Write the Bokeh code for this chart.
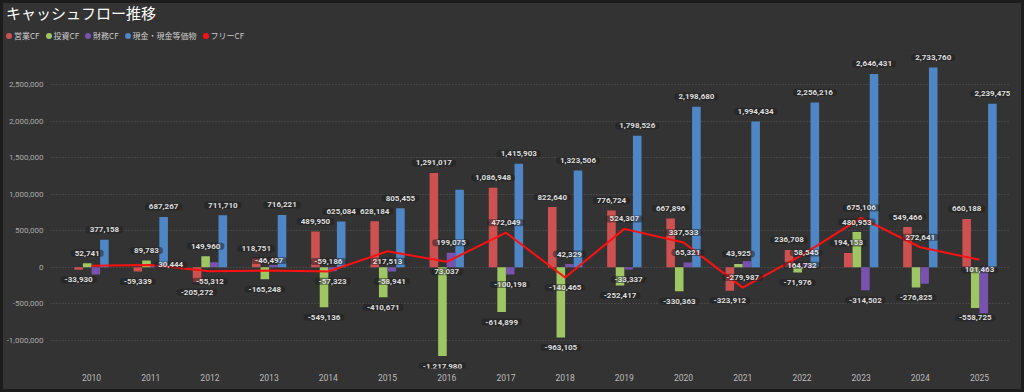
from bokeh.plotting import figure
from bokeh.layouts import column
from bokeh.models import (ColumnDataSource, FixedTicker, NumeralTickFormatter, Range1d, Div)
from bokeh.core.properties import value
from bokeh.embed import file_html
from bokeh.resources import INLINE

# ---------------- data ----------------
years = [2010, 2011, 2012, 2013, 2014, 2015, 2016, 2017, 2018, 2019, 2020, 2021, 2022, 2023, 2024, 2025]
operating = [-33930, -59339, -205272, 118751, 489950, 628184, 1291017, 1086948, 822640, 776724,
             667896, -323912, 236708, 194153, 549466, 660188]
investing = [52741, 89783, 149960, -165248, -549136, -410671, -1217980, -614899, -963105, -252417,
             -330363, 43925, -71976, 480953, -276825, -558725]
financing = [-100000, 20000, 68000, 30000, -57323, -58941, 199075, -100198, 42329, -33337,
             65321, 80000, 58545, -314502, -228000, -630000]
cash = [377158, 687267, 711710, 716221, 625084, 805455, 1059000, 1415903, 1323506, 1798526,
        2198680, 1994434, 2256216, 2646431, 2733760, 2239475]
free_cf = [18811, 30444, -55312, -46497, -59186, 217513, 73037, 472049, -140465, 524307,
           337533, -279987, 164732, 675106, 272641, 101463]

series_names = ["営業CF", "投資CF", "財務CF", "現金・現金等価物"]
free_name = "フリーCF"
title_text = "キャッシュフロー推移"
y_ticks = [-1000000, -500000, 0, 500000, 1000000, 1500000, 2000000, 2500000]

# label visibility / placement (style)
show_op = [True] * 16
show_inv = [True] * 16
show_fin = [False, False, False, False, True, True, True, True, True, True, True, False, True, True, False, False]
show_cash = [True, True, True, True, True, True, False, True, True, True, True, True, True, True, True, True]
free_pos = ["none", "right", "below", "above", "above", "below", "below", "above", "below", "above",
            "above", "above", "below", "above", "above", "below"]

# ---------------- style ----------------
colors = ["#cd5151", "#9ec764", "#7753ad", "#4f87c6"]
free_color = "#ff1010"
bg = "#333333"
num_font = "Roboto"
jp_font = "Noto Sans CJK JP"
bar_w = 0.145

# ---------------- header (title + legend) ----------------
items_html = ""
for name, col in zip(series_names + [free_name], colors + [free_color]):
    items_html += (f'<span style="display:inline-block;width:6px;height:6px;border-radius:50%;'
                   f'background:{col};margin-right:2px;"></span>'
                   f'<span style="margin-right:6px;">{name}</span>')
header_html = (
    f'<div style="position:relative;width:1024px;height:50px;font-family:\'{jp_font}\';">'
    f'<div style="position:absolute;left:6px;top:3px;font-size:15px;line-height:20px;color:#ffffff;'
    f'white-space:nowrap;">{title_text}</div>'
    f'<div style="position:absolute;left:6px;top:31px;height:10px;display:flex;align-items:center;'
    f'font-size:8px;line-height:10px;color:#cccccc;white-space:nowrap;">{items_html}</div>'
    f'</div>')
hdr = Div(text=header_html, width=1024, height=50, margin=0)

# ---------------- main chart ----------------
p = figure(frame_width=960, frame_height=318, output_backend="svg", toolbar_location=None,
           x_range=Range1d(2009.307, 2025.523), y_range=Range1d(-1388000, 2968000),
           min_border_left=50, min_border_right=14, min_border_top=0, min_border_bottom=24,
           background_fill_color=bg, border_fill_color=bg, outline_line_color=None, margin=0)

p.xgrid.visible = False
p.ygrid.grid_line_color = "#5a5a5a"
p.ygrid.grid_line_dash = "1 2"
p.ygrid.grid_line_width = 1

for ax in (p.xaxis[0], p.yaxis[0]):
    ax.axis_line_color = None
    ax.major_tick_line_color = None
    ax.minor_tick_line_color = None
    ax.major_tick_out = 0
    ax.major_tick_in = 0
    ax.minor_tick_out = 0
    ax.minor_tick_in = 0
    ax.major_label_text_font = num_font
p.xaxis.major_label_text_font_size = "8.5px"
p.yaxis.major_label_text_font_size = "8px"
p.xaxis.major_label_text_color = "#bbbbbb"
p.yaxis.major_label_text_color = "#aaaaaa"
p.xaxis.ticker = FixedTicker(ticks=years)
p.yaxis.ticker = FixedTicker(ticks=y_ticks)
p.yaxis.formatter = NumeralTickFormatter(format="0,0")
p.xaxis.major_label_standoff = 5
p.yaxis.major_label_standoff = 7

all_series = [operating, investing, financing, cash]
shows = [show_op, show_inv, show_fin, show_cash]
offsets = [-1.5, -0.5, 0.5, 1.5]

lab_x, lab_y, lab_t, lab_off = [], [], [], []
for vals, col, off, shw in zip(all_series, colors, offsets, shows):
    xs = [yr + off * bar_w for yr in years]
    src = ColumnDataSource(dict(x=xs, top=vals))
    p.vbar(x="x", top="top", bottom=0, width=bar_w, source=src, fill_color=col, line_color=None)
    for xi, v, s in zip(xs, vals, shw):
        if s:
            lab_x.append(xi)
            lab_y.append(v)
            lab_t.append(f"{v:,}")
            lab_off.append(-10 if v >= 0 else 10)

p.line(years, free_cf, color=free_color, line_width=2)

fx, fy, ft, fxo, fyo = [], [], [], [], []
for yr, v, pos in zip(years, free_cf, free_pos):
    if pos == "none":
        continue
    fx.append(yr)
    fy.append(v)
    ft.append(f"{v:,}")
    fxo.append(20 if pos == "right" else 0)
    fyo.append(-10 if pos == "above" else (10 if pos == "below" else 0))

lab_src = ColumnDataSource(dict(x=lab_x + fx, y=lab_y + fy, text=lab_t + ft,
                                xo=[0] * len(lab_x) + fxo, yo=lab_off + fyo))
p.text(x="x", y="y", text="text", x_offset="xo", y_offset="yo", source=lab_src,
       text_font=value(num_font), text_font_size="8px", text_font_style="bold",
       text_color="#dddddd", text_align="center", text_baseline="middle",
       background_fill_color="#1e1e1e", background_fill_alpha=0.5,
       padding=(4, 1), border_radius=3)

layout = column(hdr, p, spacing=0, margin=0)

html = file_html(layout, INLINE)
style = ("<style>html,body{margin:0;padding:0;background:#333333;}"
         "html::after{content:'';position:fixed;left:0;top:0;right:0;bottom:0;"
         "box-shadow:inset 0 0 0 3px #1c1c1c;pointer-events:none;z-index:100;}</style>")
html = html.replace("</head>", style + "</head>", 1)
open("out.html", "w").write(html)
